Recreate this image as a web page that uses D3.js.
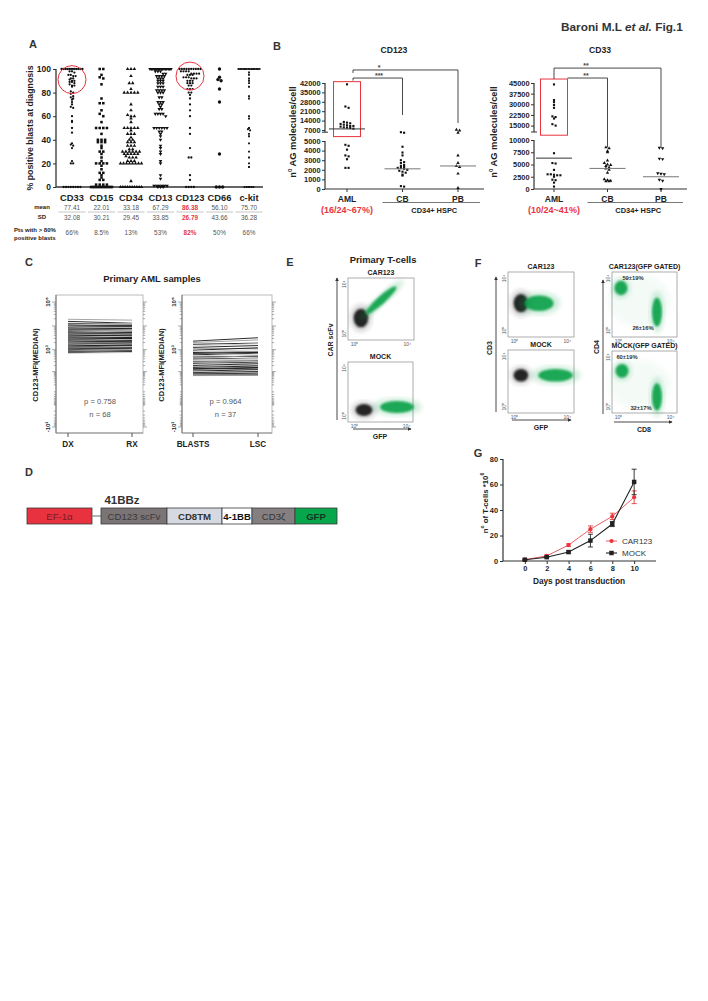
<!DOCTYPE html>
<html>
<head>
<meta charset="utf-8">
<script src="https://cdn.jsdelivr.net/npm/d3@7"></script>
<style>
  body { margin: 0; background: #fff; }
  svg { display: block; font-family: "Liberation Sans", Arial, Helvetica, sans-serif; }
</style>
</head>
<body>
<svg id="fig" width="708" height="1001"></svg>
<script>
// ---------- data ----------
const markersA = ["CD33", "CD15", "CD34", "CD13", "CD123", "CD66", "c-kit"];
const pctCD33 = [100,100,100,100,100,100,100,100,100,100,100,100,98,98,97,95,95,94,94,92,92,91,90,90,89,89,88,87,86,86,85,81,80,79,77,76,75,74,72,70,68,67,60,56,55,50,46,37,36,35,33,22,20,20,0,0,0,0,0,0,0,0];
const pctCD15 = [100,100,95,93,92,87,75,71,71,65,62,60,55,50,50,50,50,45,40,40,40,38,38,38,35,33,30,30,28,25,22,20,20,20,20,18,15,12,12,10,8,6,6,2,2,2,2,0,0,0,0,0,0,0,0,0,0,0,0,0,0];
const pctCD34 = [100,100,100,94,88,88,83,80,80,80,80,80,70,65,61,60,60,58,55,50,50,50,50,50,48,45,45,45,42,40,40,38,38,38,35,35,35,32,32,30,30,30,30,30,30,28,28,28,28,28,26,25,25,25,22,22,22,20,20,20,20,20,20,20,20,5,0,0,0,0,0,0,0,0,0,0];
const pctCD13 = [100,100,100,100,100,100,100,100,100,100,100,100,100,100,100,100,98,98,98,96,96,94,94,94,94,92,92,92,90,90,90,88,88,88,85,85,85,82,82,82,82,80,80,80,76,76,72,72,72,70,70,68,66,66,62,62,62,62,60,50,50,50,50,50,50,47,47,45,43,40,35,33,30,28,22,20,10,7,1,1,1,1,1,1,0,0,0];
const pctCD123 = [100,100,100,100,100,100,100,100,100,100,98,98,98,98,96,96,96,96,95,95,95,93,93,93,92,92,92,90,90,90,88,88,88,86,86,83,83,83,80,80,78,75,70,65,60,50,45,33,25,25,10,6,0,0,0,0];
const pctCD66 = [100,93,91,90,83,72,28,0,0,0];
const pctKit = [100,100,100,100,100,100,100,100,100,100,100,100,100,100,97,95,92,90,88,85,77,75,60,58,50,49,48,45,43,37,30,25,20,17,0,0,0,0,0];
const meanA = ["77.41", "22.01", "33.18", "67.29", "86.38", "56.10", "75.70"];
const sdA = ["32.08", "30.21", "29.45", "33.85", "26.79", "43.66", "36.28"];
const over80A = ["66%", "8.5%", "13%", "53%", "82%", "50%", "66%"];
const circledA = [["CD33", 91], ["CD123", 94]];

const groupsB = ["AML", "CB", "PB"];
const cd123AML = [41000,24500,23500,13000,12500,12000,11500,11000,10500,10000,10000,9500,9000,8800,8500,8000,4600,4500,4100,3500,3400,3100,2200,2200];
const cd123CB = [6600,6500,4400,3800,3500,3000,2800,2700,2500,2400,2300,2200,2200,2100,2000,1900,1800,1700,1500,1400,300,250];
const cd123PB = [7200,6900,6500,3500,2700,2400,2300,1600,100];
const cd123Median = [7800, 2100, 2400];
const cd33AML = [44000,33000,31500,29500,27500,21500,21000,20000,16000,15000,7300,5300,5200,3900,3000,3000,2900,2800,2800,2500,1900,1800,1300,500];
const cd33CB = [8500,8300,7700,7500,5800,5300,5000,4900,4700,4400,4200,3900,3300,2000,1800,1700,1600,1600];
const cd33PB = [8400,8300,6200,6100,3200,3100,3000,1900,1700,0];
const cd33Median = [6300, 4200, 2500];

const dxMFI = [15500,19000,12800,11800,11000,10400,9800,9300,8800,8400,8000,7700,7400,7100,6800,6500,6200,6000,5800,5500,5300,5100,4900,4700,4500,4300,4150,4000,3850,3700,3550,3400,3300,3150,3000,2900,2800,2700,2600,2500,2400,2300,2200,2150,2050,1950,1850,1800,1700,1650,1550,1500,1450,1380,1300,1250,1200,1150,1100,1050,1000,950,900,860,820,780,740,700];
const rxMFI = [13000,17500,12000,12500,9800,11200,10300,8400,9500,8900,7300,8200,7900,6600,7300,6900,5900,6500,5500,6100,4900,5600,5200,4400,5000,4700,3900,4300,4200,3500,3900,3700,3100,3400,3300,2700,3000,2500,2900,2700,2200,2600,2400,2000,2300,2100,1900,1700,1900,1800,1450,1650,1600,1300,1450,1350,1150,1250,1200,1000,1100,1050,880,950,900,850,820,760];
const blastsMFI = [2300,2000,1700,1450,1250,1100,950,850,760,680,600,540,480,430,390,350,310,280,250,225,200,180,160,145,130,118,106,96,88,80,74,68,64,60,140,330,700];
const lscMFI = [3200,2600,1900,1800,1500,1150,1200,1000,800,850,700,650,520,560,430,420,330,350,280,260,240,200,190,160,150,130,125,105,100,85,82,72,66,62,160,380,760];

const vectorParts = ["EF-1α", "", "CD123 scFv", "CD8TM", "4-1BB", "CD3ζ", "GFP"];
const vectorLengths = [65, 9, 66, 55, 30, 43, 42];

// flow populations in log decades: plot, centre x, centre y, spread x, spread y, tilt, colour, density
const flowPops = [
  ["E1", 0.48, 1.27, 0.55, 0.75, 0, "k", 1],
  ["E1", 2.0, 2.7, 1.55, 0.32, 42, "g", 1],
  ["E2", 0.73, 0.5, 0.65, 0.5, 0, "k", 1],
  ["E2", 3.27, 0.75, 1.3, 0.5, 0, "g", 1],
  ["F1", 0.48, 2.1, 0.55, 0.7, 0, "k", 1],
  ["F1", 1.85, 2.1, 1.1, 0.6, 0, "g", 1],
  ["F2", 0.48, 2.5, 0.55, 0.5, 0, "k", 1],
  ["F2", 3.1, 2.5, 1.3, 0.5, 0, "g", 1],
  ["F3", 1.6, 2.3, 1.7, 1.4, 0, "g", 0.2],
  ["F3", 0.19, 3.27, 0.5, 0.55, 0, "g", 1],
  ["F3", 2.96, 1.42, 0.38, 1.1, 0, "g", 1],
  ["F4", 1.6, 1.8, 1.7, 1.4, 0, "g", 0.2],
  ["F4", 0.27, 2.9, 0.5, 0.55, 0, "g", 1],
  ["F4", 2.96, 0.8, 0.38, 1.1, 0, "g", 1]
];
const gatedPct = ["59±19%", "26±16%", "60±19%", "32±17%"];

const days = [0, 2, 4, 6, 8, 10];
const car123Cells = [1, 4, 12.5, 25, 35, 50];
const car123Err = [0.5, 0.8, 1, 2.5, 2.5, 5];
const mockCells = [1, 3, 7, 16, 29, 62];
const mockErr = [0.5, 0.5, 1, 5, 2, 10];

// ---------- helpers ----------
const RED = "#e8343f", GREEN = "#0aa34b", INK = "#222";
const svg = d3.select("#fig");
svg.append("rect").attr("width", 708).attr("height", 1001).attr("fill", "#fff");
const defs = svg.append("defs");
defs.append("filter").attr("id", "soft").append("feGaussianBlur").attr("stdDeviation", 1.1);
defs.append("filter").attr("id", "haze").append("feGaussianBlur").attr("stdDeviation", 2.4);
defs.append("marker").attr("id", "arr").attr("viewBox", "0 0 6 6").attr("refX", 5).attr("refY", 3)
  .attr("markerWidth", 4).attr("markerHeight", 4).attr("orient", "auto")
  .append("path").attr("d", "M0,0L6,3L0,6Z").attr("fill", "#333");

function label(g, x, y, s, o = {}) {
  const t = g.append("text").attr("x", x).attr("y", y).text(s)
    .attr("font-size", o.size || 8)
    .attr("font-weight", o.bold ? "bold" : null)
    .attr("font-style", o.italic ? "italic" : null)
    .attr("fill", o.fill || INK)
    .attr("text-anchor", o.anchor || "middle")
    .attr("dominant-baseline", "central");
  if (o.rotate) t.attr("transform", `rotate(${o.rotate},${x},${y})`);
  return t;
}

function styleAxis(g, size) {
  g.attr("font-family", null);
  g.select(".domain").remove();
  g.selectAll(".tick line").attr("stroke", "#333");
  g.selectAll("text").attr("font-size", size).attr("font-weight", "bold").attr("fill", INK);
}

// spread points of similar value side by side
function swarm(vals, y, cx, step, bin, maxW) {
  const rows = d3.groups(vals, v => Math.round(y(v) / bin));
  const pts = [];
  rows.forEach(([, vs]) => {
    const s = vs.length > 1 ? Math.min(step, maxW / (vs.length - 1)) : 0;
    vs.forEach((v, i) => pts.push({ x: cx + (i - (vs.length - 1) / 2) * s, y: y(v) }));
  });
  return pts;
}

function drawPoints(g, pts, type, size, rot) {
  g.selectAll(null).data(pts).join("path")
    .attr("d", d3.symbol().type(type).size(size)())
    .attr("transform", d => `translate(${d.x},${d.y}) rotate(${rot || 0})`)
    .attr("fill", "#111");
}

// header
const head = svg.append("text").attr("x", 561).attr("y", 27).attr("font-size", 11.8)
  .attr("font-weight", "bold").attr("fill", "#333").attr("dominant-baseline", "central");
head.append("tspan").text("Baroni M.L ");
head.append("tspan").attr("font-style", "italic").text("et al.");
head.append("tspan").text(" Fig.1");

[["A", 33, 44], ["B", 277, 46], ["C", 29, 262], ["E", 290, 262], ["F", 478, 263], ["D", 29, 472], ["G", 478, 453]]
  .forEach(([s, x, y]) => label(svg, x, y, s, { size: 11, bold: true, fill: "#333" }));

// ---------- panel A ----------
{
  const g = svg.append("g");
  const x = d3.scalePoint().domain(markersA).range([72, 249]);
  const y = d3.scaleLinear().domain([0, 100]).range([187, 69]);
  g.append("g").attr("transform", "translate(56,0)")
    .call(d3.axisLeft(y).tickValues([0, 20, 40, 60, 80, 100]).tickSize(3).tickSizeOuter(0).tickPadding(2))
    .call(a => styleAxis(a, 8.5));
  g.append("line").attr("x1", 56).attr("x2", 56).attr("y1", 69).attr("y2", 187).attr("stroke", "#333").attr("stroke-width", 1.3);
  g.append("line").attr("x1", 56).attr("x2", 263).attr("y1", 187).attr("y2", 187).attr("stroke", "#333").attr("stroke-width", 1.3);
  label(g, 30, 128, "% positive blasts at diagnosis", { size: 8.8, bold: true, rotate: -90 });

  const series = [pctCD33, pctCD15, pctCD34, pctCD13, pctCD123, pctCD66, pctKit];
  const sym = [[d3.symbolCircle, 4, 0, 2.4], [d3.symbolSquare, 6.5, 0, 3.6], [d3.symbolTriangle, 5.5, 0, 3.4],
               [d3.symbolTriangle, 5.5, 180, 2.6], [d3.symbolCircle, 4, 0, 2.6], [d3.symbolCircle, 9, 0, 3.2],
               [d3.symbolSquare, 3.5, 0, 2.2]];
  series.forEach((vals, i) => {
    const pts = swarm(vals, y, x(markersA[i]), sym[i][3], 2.5, 21);
    drawPoints(g, pts, sym[i][0], sym[i][1], sym[i][2]);
  });
  circledA.forEach(([m, v]) => g.append("circle").attr("cx", x(m)).attr("cy", y(v)).attr("r", 14)
    .attr("fill", "none").attr("stroke", RED).attr("stroke-width", 1));

  markersA.forEach((m, i) => {
    const cx = x(m), hot = m === "CD123";
    label(g, cx, 197.5, m, { size: 9.3, bold: true });
    label(g, cx, 207, meanA[i], { size: 6.4, fill: hot ? RED : "#555", bold: hot });
    label(g, cx, 217, sdA[i], { size: 6.4, fill: hot ? RED : "#555", bold: hot });
    label(g, cx, 232, over80A[i], { size: 6.4, fill: hot ? RED : "#555", bold: hot });
    g.append("line").attr("x1", cx - 13.5).attr("x2", cx + 13.5).attr("y1", 212).attr("y2", 212)
      .attr("stroke", "#c6c6c6").attr("stroke-width", 1);
  });
  label(g, 42, 207, "mean", { size: 6, bold: true });
  label(g, 42, 217, "SD", { size: 6, bold: true });
  label(g, 14, 230, "Pts with > 80%", { size: 6, bold: true, anchor: "start" });
  label(g, 14, 237.5, "positive blasts", { size: 6, bold: true, anchor: "start" });
}

// ---------- panel B ----------
function panelB(c) {
  const g = svg.append("g");
  const y = d3.scaleLinear().domain(c.domain).range(c.range);
  const x = d3.scalePoint().domain(groupsB).range(c.xr);
  const lower = g.append("g").attr("transform", `translate(${c.ax},0)`)
    .call(d3.axisLeft(y).tickValues(c.lowTicks).tickFormat(d3.format("d")).tickSize(3).tickPadding(1.5));
  styleAxis(lower, 7.4);
  const upper = g.append("g").attr("transform", `translate(${c.ax},0)`)
    .call(d3.axisLeft(y).tickValues(c.upTicks).tickFormat(d3.format("d")).tickSize(3).tickPadding(1.5));
  styleAxis(upper, 7.4);
  const yl = c.lowTicks[c.lowTicks.length - 1], yb = y(c.upStart);
  g.append("line").attr("x1", c.ax).attr("x2", c.ax).attr("y1", y(0)).attr("y2", y(yl)).attr("stroke", "#333").attr("stroke-width", 1.2);
  g.append("line").attr("x1", c.ax).attr("x2", c.ax).attr("y1", yb).attr("y2", y(c.upTicks[c.upTicks.length - 1])).attr("stroke", "#333").attr("stroke-width", 1.2);
  g.append("line").attr("x1", c.ax - 3).attr("x2", c.ax + 3).attr("y1", yb).attr("y2", yb).attr("stroke", "#333");
  g.append("line").attr("x1", c.ax).attr("x2", c.axEnd).attr("y1", y(0)).attr("y2", y(0)).attr("stroke", "#333").attr("stroke-width", 1.2);
  groupsB.forEach(k => g.append("line").attr("x1", x(k)).attr("x2", x(k)).attr("y1", y(0)).attr("y2", y(0) + 3).attr("stroke", "#333"));

  label(g, c.titleX, 50, c.title, { size: 8.6, bold: true });
  const yt = g.append("text").attr("transform", `translate(${c.ylx},132) rotate(-90)`).attr("text-anchor", "middle")
    .attr("dominant-baseline", "central").attr("font-size", 9.3).attr("font-weight", "bold").attr("fill", INK);
  yt.append("tspan").text("n");
  yt.append("tspan").attr("font-size", 6).attr("dy", -3).text("0");
  yt.append("tspan").attr("dy", 3).text(" AG molecules/cell");

  // box around the high expressers
  g.append("rect").attr("x", x("AML") - 13.5).attr("width", 27).attr("y", y(c.box[1])).attr("height", y(c.box[0]) - y(c.box[1]))
    .attr("fill", "none").attr("stroke", RED).attr("stroke-width", 1);

  c.data.forEach((vals, i) => {
    const pts = swarm(vals, y, x(groupsB[i]), 3.2, 2.6, 26);
    drawPoints(g, pts, c.sym[i][0], c.sym[i][1], c.sym[i][2]);
    const ym = y(c.median[i]);
    g.append("line").attr("x1", x(groupsB[i]) - 18).attr("x2", x(groupsB[i]) + 18).attr("y1", ym).attr("y2", ym)
      .attr("stroke", i === 0 ? "#333" : "#777").attr("stroke-width", 1);
  });

  c.brackets.forEach(b => {
    const xa = x("AML") + b.startOff, xb = x(b.to), yy = y(b.level);
    g.append("path").attr("d", `M${xa},${y(b.endA)}V${yy}H${xb}V${y(b.endB)}`)
      .attr("fill", "none").attr("stroke", "#333").attr("stroke-width", 0.9);
    label(g, x("AML") + 32, yy - 2.5, b.stars, { size: 7, bold: true, fill: "#444" });
  });

  groupsB.forEach(k => label(g, x(k), 198.5, k, { size: 8.5, bold: true }));
  label(g, x("AML"), 210, c.pct, { size: 9, bold: true, fill: RED });
  g.append("line").attr("x1", x("CB") - 20).attr("x2", x("PB") + 22).attr("y1", 202.5).attr("y2", 202.5).attr("stroke", "#555").attr("stroke-width", 0.8);
  label(g, (x("CB") + x("PB")) / 2 + 4, 210, "CD34+ HSPC", { size: 7.4, bold: true });
}

panelB({
  title: "CD123", titleX: 394, ax: 325, axEnd: 484, xr: [347, 458], ylx: 293,
  domain: [0, 5000, 7000, 42000], range: [189, 141, 130, 83],
  lowTicks: [0, 1000, 2000, 3000, 4000, 5000], upTicks: [7000, 14000, 21000, 28000, 35000, 42000], upStart: 6600,
  box: [5800, 43000], data: [cd123AML, cd123CB, cd123PB], median: cd123Median,
  sym: [[d3.symbolSquare, 4.5, 0], [d3.symbolSquare, 4.5, 0], [d3.symbolTriangle, 5, 0]],
  brackets: [{ to: "PB", level: 51700, endA: 49500, endB: 12200, startOff: 6, stars: "*" },
             { to: "CB", level: 45700, endA: 43800, endB: 18200, startOff: 6, stars: "***" }],
  pct: "(16/24~67%)"
});
panelB({
  title: "CD33", titleX: 600, ax: 534, axEnd: 687, xr: [554, 661], ylx: 494,
  domain: [0, 10000, 10500, 45000], range: [189, 140, 132, 83],
  lowTicks: [0, 2500, 5000, 7500, 10000], upTicks: [15000, 22500, 30000, 37500, 45000], upStart: 10500,
  box: [10300, 47800], data: [cd33AML, cd33CB, cd33PB], median: cd33Median,
  sym: [[d3.symbolSquare, 4.5, 0], [d3.symbolTriangle, 5, 0], [d3.symbolTriangle, 5, 180]],
  brackets: [{ to: "PB", level: 55500, endA: 47800, endB: 8500, startOff: 0, stars: "**" },
             { to: "CB", level: 48500, endA: 48500, endB: 8500, startOff: 13.5, stars: "**" }],
  pct: "(10/24~41%)"
});

// ---------- panel C ----------
label(svg, 152, 278, "Primary AML samples", { size: 9.4, bold: true });
function panelC(c) {
  const g = svg.append("g");
  const y = d3.scaleSymlog().constant(25).domain([-1000, 100000]).range([427, 302]);
  const x = d3.scalePoint().domain(c.cats).range(c.xr);
  g.append("rect").attr("x", c.box[0]).attr("y", 295).attr("width", c.box[1] - c.box[0]).attr("height", 138)
    .attr("fill", "none").attr("stroke", "#aaa").attr("stroke-width", 0.8);
  g.append("line").attr("x1", c.box[0]).attr("x2", c.box[0]).attr("y1", 295).attr("y2", 433).attr("stroke", "#666").attr("stroke-width", 0.9);
  g.append("line").attr("x1", c.box[0]).attr("x2", c.box[1]).attr("y1", 433).attr("y2", 433).attr("stroke", "#888").attr("stroke-width", 0.9);
  const minor = [];
  for (let k = 1; k <= 4; k++) for (let m = 1; m <= 9; m++) minor.push(m * 10 ** k);
  for (let k = 1; k <= 2; k++) for (let m = 1; m <= 9; m++) minor.push(-m * 10 ** k);
  minor.push(100000, -1000);
  const major = new Set([100000, 10000, 1000, 100, -1000]);
  [c.box[0], c.box[1]].forEach((bx, side) => {
    g.selectAll(null).data(minor).join("line")
      .attr("x1", d => side ? bx : bx - (major.has(d) ? 4 : 2.2))
      .attr("x2", d => side ? bx + (major.has(d) ? 4 : 2.2) : bx)
      .attr("y1", d => y(d)).attr("y2", d => y(d)).attr("stroke", "#777").attr("stroke-width", 0.6);
  });
  [[100000, "10⁵"], [1000, "10³"], [-1000, "-10³"]].forEach(([v, s]) =>
    label(g, c.box[0] - 8, y(v), s, { size: 6, bold: true, rotate: -90 }));
  label(g, c.box[0] - 21, 365, "CD123-MFI(MEDIAN)", { size: 7.5, bold: true, rotate: -90 });
  g.selectAll(null).data(c.a).join("line")
    .attr("x1", x(c.cats[0])).attr("x2", x(c.cats[1]))
    .attr("y1", d => y(d)).attr("y2", (d, i) => y(c.b[i]))
    .attr("stroke", (d, i) => i % 4 === 1 ? "#9a9a9a" : i % 4 === 3 ? "#cdcdcd" : "#141414")
    .attr("stroke-width", 0.9);
  c.cats.forEach(k => {
    g.append("line").attr("x1", x(k)).attr("x2", x(k)).attr("y1", 433).attr("y2", 437).attr("stroke", "#555");
    label(g, x(k), 444.5, k, { size: 8.2, bold: true });
  });
  const mid = (c.xr[0] + c.xr[1]) / 2;
  label(g, mid, 401.5, c.p, { size: 7.6, fill: "#555" });
  label(g, mid, 414, c.n, { size: 7.6, fill: "#555" });
}
panelC({ cats: ["DX", "RX"], xr: [68, 132], box: [56, 143], a: dxMFI, b: rxMFI, p: "p = 0.758", n: "n = 68" });
panelC({ cats: ["BLASTS", "LSC"], xr: [193, 258], box: [182, 272], a: blastsMFI, b: lscMFI, p: "p = 0.964", n: "n = 37" });

// ---------- panel D ----------
{
  const g = svg.append("g");
  const x = d3.scaleLinear().domain([0, d3.sum(vectorLengths)]).range([27, 337]);
  const fills = ["#e8323f", null, "#7b7475", "#d6d9e1", "#ffffff", "#857f81", "#07a64d"];
  const inks = ["#7a1b22", null, "#3a3a3a", "#333", "#111", "#333", "#17361f"];
  const bold = [false, false, false, true, true, false, true];
  let acc = 0;
  vectorParts.forEach((p, i) => {
    const x0 = x(acc), x1 = x(acc + vectorLengths[i]);
    acc += vectorLengths[i];
    if (!fills[i]) {
      g.append("line").attr("x1", x0).attr("x2", x1).attr("y1", 516).attr("y2", 516).attr("stroke", "#999").attr("stroke-width", 1.5);
      return;
    }
    g.append("rect").attr("x", x0).attr("y", 508).attr("width", x1 - x0).attr("height", 16)
      .attr("fill", fills[i]).attr("stroke", "#3a3a3a").attr("stroke-width", 0.8);
    label(g, (x0 + x1) / 2, 516.5, p, { size: 9.6, fill: inks[i], bold: bold[i] });
  });
  label(g, 122, 500, "41BBz", { size: 11.5, bold: true, fill: "#333" });
}

// ---------- panels E and F ----------
const flowPlots = {
  E1: { title: "CAR123", box: [348, 278, 66, 62] },
  E2: { title: "MOCK", box: [348, 362, 65, 60] },
  F1: { title: "CAR123", box: [508, 272, 66, 65] },
  F2: { title: "MOCK", box: [508, 350, 66, 63] },
  F3: { title: "CAR123(GFP GATED)", box: [612, 272, 65, 65] },
  F4: { title: "MOCK(GFP GATED)", box: [612, 351, 65, 62] }
};
label(svg, 383, 259, "Primary T-cells", { size: 9.4, bold: true });
Object.entries(flowPlots).forEach(([key, p]) => {
  const [bx, by, bw, bh] = p.box;
  const g = svg.append("g");
  const x = d3.scaleLinear().domain([-0.5, 4.5]).range([bx, bx + bw]);
  const y = d3.scaleLinear().domain([-0.5, 4.5]).range([by + bh, by]);
  g.append("rect").attr("x", bx).attr("y", by).attr("width", bw).attr("height", bh)
    .attr("fill", "#fff").attr("stroke", "#999").attr("stroke-width", 0.8);
  const pops = flowPops.filter(d => d[0] === key);
  pops.forEach(([, cx, cy, sx, sy, tilt, col, dens]) => {
    const rx = x(cx + sx) - x(cx), ry = y(cy) - y(cy + sy);
    const fill = col === "k" ? "#161616" : GREEN;
    const t = `translate(${x(cx)},${y(cy)}) rotate(${-tilt})`;
    g.append("ellipse").attr("transform", t).attr("rx", rx * 1.45).attr("ry", ry * 1.45)
      .attr("fill", fill).attr("opacity", 0.2 * dens).attr("filter", "url(#haze)");
    if (dens >= 1) g.append("ellipse").attr("transform", t).attr("rx", rx).attr("ry", ry)
      .attr("fill", fill).attr("opacity", 0.92).attr("filter", "url(#soft)");
  });
  label(g, bx + bw / 2, by - 5.5, p.title, { size: 7, bold: true });
  label(g, x(0), by + bh + 4, "10⁰", { size: 5, fill: "#555" });
  label(g, x(4), by + bh + 4, "10⁴", { size: 5, fill: "#555" });
  label(g, bx - 4, y(4), "10⁴", { size: 5, fill: "#555", rotate: -90 });
  label(g, bx - 4, y(0), "10⁰", { size: 5, fill: "#555", rotate: -90 });
});
[[633, 278, 0], [643, 328, 1], [627, 357, 2], [641, 408, 3]]
  .forEach(([x, y, i]) => label(svg, x, y, gatedPct[i], { size: 5.8, bold: true, fill: "#333" }));
[[337, 420, 337, 278, "CAR scFv", 330, 340, -90], [353, 429, 411, 429, "GFP", 380, 436, 0],
 [496, 412, 496, 277, "CD3", 489, 348, -90], [512, 420, 571, 420, "GFP", 541, 427, 0],
 [603, 414, 603, 280, "CD4", 596, 347, -90], [614, 422, 672, 422, "CD8", 644, 429, 0]]
  .forEach(([x1, y1, x2, y2, s, lx, ly, r]) => {
    svg.append("line").attr("x1", x1).attr("y1", y1).attr("x2", x2).attr("y2", y2)
      .attr("stroke", "#333").attr("stroke-width", 0.9).attr("marker-end", "url(#arr)");
    label(svg, lx, ly, s, { size: 7, bold: true, rotate: r });
  });

// ---------- panel G ----------
{
  const g = svg.append("g");
  const x = d3.scaleLinear().domain([-2, 12]).range([503, 656]);
  const y = d3.scaleLinear().domain([0, 80]).range([561, 459]);
  g.append("g").attr("transform", "translate(0,561)")
    .call(d3.axisBottom(x).tickValues(days).tickSize(3).tickSizeOuter(0).tickPadding(2))
    .call(a => styleAxis(a, 7.4));
  g.append("g").attr("transform", "translate(503,0)")
    .call(d3.axisLeft(y).tickValues([0, 20, 40, 60, 80]).tickSize(3).tickSizeOuter(0).tickPadding(2))
    .call(a => styleAxis(a, 7.4));
  g.append("line").attr("x1", 503).attr("x2", 656).attr("y1", 561).attr("y2", 561).attr("stroke", "#333").attr("stroke-width", 1.2);
  g.append("line").attr("x1", 503).attr("x2", 503).attr("y1", 459).attr("y2", 561).attr("stroke", "#333").attr("stroke-width", 1.2);
  label(g, 579, 581, "Days post transduction", { size: 8.3, bold: true });
  const yt = g.append("text").attr("transform", "translate(485,503) rotate(-90)").attr("text-anchor", "middle")
    .attr("dominant-baseline", "central").attr("font-size", 7.8).attr("font-weight", "bold").attr("fill", INK);
  yt.append("tspan").text("n");
  yt.append("tspan").attr("font-size", 5).attr("dy", -3).text("o");
  yt.append("tspan").attr("dy", 3).text(" of T-cells *10");
  yt.append("tspan").attr("font-size", 5).attr("dy", -3).text("6");

  const series = [
    { v: car123Cells, e: car123Err, col: RED, w: 0.8, sym: d3.symbolCircle, size: 14 },
    { v: mockCells, e: mockErr, col: "#222", w: 1.1, sym: d3.symbolSquare, size: 20 }
  ];
  series.forEach(s => {
    g.append("path").datum(days).attr("fill", "none").attr("stroke", s.col).attr("stroke-width", s.w)
      .attr("d", d3.line().x(d => x(d)).y((d, i) => y(s.v[i])));
    days.forEach((d, i) => {
      const y0 = y(s.v[i] - s.e[i]), y1 = y(s.v[i] + s.e[i]);
      g.append("path").attr("d", `M${x(d)},${y0}V${y1}M${x(d) - 2.5},${y0}H${x(d) + 2.5}M${x(d) - 2.5},${y1}H${x(d) + 2.5}`)
        .attr("stroke", s.col).attr("stroke-width", 0.9).attr("fill", "none");
      g.append("path").attr("d", d3.symbol().type(s.sym).size(s.size)()).attr("transform", `translate(${x(d)},${y(s.v[i])})`).attr("fill", s.col);
    });
  });
  [["CAR123", RED, d3.symbolCircle, 14, 541, 0.8], ["MOCK", "#222", d3.symbolSquare, 20, 553, 1.1]].forEach(([s, col, sym, sz, ly, w]) => {
    g.append("line").attr("x1", 606).attr("x2", 617).attr("y1", ly).attr("y2", ly).attr("stroke", col).attr("stroke-width", w);
    g.append("path").attr("d", d3.symbol().type(sym).size(sz)()).attr("transform", `translate(611.5,${ly})`).attr("fill", col);
    label(g, 622, ly, s, { size: 8, anchor: "start", fill: "#333" });
  });
}
</script>
</body>
</html>
